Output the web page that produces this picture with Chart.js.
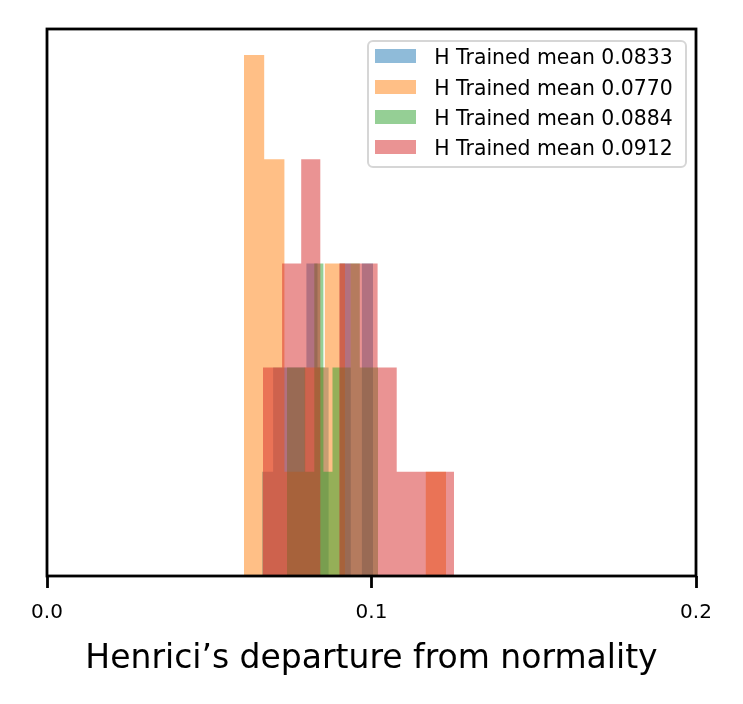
<!DOCTYPE html>
<html>
<head>
<meta charset="utf-8">
<script src="https://cdn.jsdelivr.net/npm/chart.js@4.4.0/dist/chart.umd.min.js"></script>
<style>
html,body{margin:0;padding:0;background:#fff;}
#wrap{position:relative;width:743px;height:704px;}
#legend{position:absolute;left:367px;top:40px;width:320px;height:128px;box-sizing:border-box;border:2.7px solid #d6d6d6;border-radius:6px;background:rgba(255,255,255,0.8);font-family:'DejaVu Sans',sans-serif;font-size:20.4px;color:#000;}
.row{position:absolute;left:6.3px;height:14px;line-height:14px;white-space:nowrap;}
.sw{position:absolute;left:0;top:0;width:41px;height:14px;}
.tx{position:absolute;left:59px;top:1px;}
</style>
</head>
<body>
<div id="wrap">
<canvas id="c" width="743" height="704"></canvas>
<div id="legend"></div>
</div>
<script>
// ---- data (Henrici's departure from normality histograms) ----
const seriesLabels = ['H Trained mean 0.0833', 'H Trained mean 0.0770', 'H Trained mean 0.0884', 'H Trained mean 0.0912'];
const seriesColors = ['rgba(31,119,180,0.5)', 'rgba(255,127,14,0.5)', 'rgba(44,160,44,0.5)', 'rgba(214,39,40,0.5)'];

// bin edges (11 each) and counts (10 each)
const blueEdges   = [0.06626, 0.06968, 0.07310, 0.07652, 0.07994, 0.08336, 0.08678, 0.09020, 0.09362, 0.09704, 0.10046];
const blueCounts  = [1, 2, 2, 2, 3, 2, 0, 3, 0, 3];

const orangeEdges  = [0.06071, 0.06693, 0.07316, 0.07938, 0.08561, 0.09183, 0.09806, 0.10428, 0.11051, 0.11673, 0.12296];
const orangeCounts = [5, 4, 1, 2, 3, 0, 0, 0, 0, 1];

const greenEdges  = [0.07396, 0.07676, 0.07957, 0.08237, 0.08518, 0.08798, 0.09078, 0.09359, 0.09639, 0.09920, 0.10200];
const greenCounts = [2, 2, 1, 3, 1, 2, 2, 3, 2, 2];

const redEdges  = [0.06656, 0.07245, 0.07834, 0.08422, 0.09011, 0.09600, 0.10188, 0.10777, 0.11366, 0.11954, 0.12542];
const redCounts = [2, 3, 4, 0, 3, 3, 2, 1, 1, 1];

const xTickValues = [0, 0.1, 0.2];
const xTickLabels = ['0.0', '0.1', '0.2'];
const xTitle = 'Henrici\u2019s departure from normality';

// ---- build ----
function histPoints(edges, counts) {
  return edges.map((e, i) => ({ x: e, y: counts[Math.min(i, counts.length - 1)] }));
}
const allEdges = [blueEdges, orangeEdges, greenEdges, redEdges];
const allCounts = [blueCounts, orangeCounts, greenCounts, redCounts];

const datasets = seriesLabels.map((lab, k) => ({
  label: lab,
  data: histPoints(allEdges[k], allCounts[k]),
  stepped: 'before',
  fill: 'origin',
  backgroundColor: seriesColors[k],
  borderColor: 'rgba(0,0,0,0)',
  borderWidth: 0,
  pointRadius: 0,
  pointHoverRadius: 0,
  tension: 0,
  order: seriesLabels.length - k
}));

const framePlugin = {
  id: 'frame',
  afterDatasetsDraw(chart) {
    const a = chart.chartArea, ctx = chart.ctx;
    ctx.save();
    ctx.strokeStyle = '#000';
    ctx.lineWidth = 2.8;
    ctx.strokeRect(a.left, a.top, a.right - a.left, a.bottom - a.top);
    ctx.restore();
  }
};

const htmlLegend = {
  id: 'htmlLegend',
  afterUpdate(chart) {
    const box = document.getElementById('legend');
    box.innerHTML = '';
    chart.data.datasets.forEach((ds, i) => {
      const row = document.createElement('div');
      row.className = 'row';
      row.style.top = (7.3 + 30.2 * i) + 'px';
      const sw = document.createElement('div');
      sw.className = 'sw';
      sw.style.background = ds.backgroundColor;
      const tx = document.createElement('span');
      tx.className = 'tx';
      tx.textContent = ds.label;
      row.appendChild(sw);
      row.appendChild(tx);
      box.appendChild(row);
    });
  }
};

new Chart(document.getElementById('c'), {
  type: 'line',
  data: { datasets },
  plugins: [framePlugin, htmlLegend],
  options: {
    responsive: false,
    animation: false,
    devicePixelRatio: 1,
    events: [],
    layout: { padding: { left: 47, right: 47, top: 29, bottom: 28.5 } },
    plugins: { legend: { display: false }, tooltip: { enabled: false } },
    scales: {
      x: {
        type: 'linear',
        min: 0, max: 0.2,
        afterBuildTicks(axis) { axis.ticks = xTickValues.map(v => ({ value: v })); },
        ticks: {
          callback: (v) => { const i = xTickValues.indexOf(v); return i >= 0 ? xTickLabels[i] : ''; },
          font: { family: 'DejaVu Sans', size: 20 },
          color: '#000',
          padding: 13,
          maxRotation: 0
        },
        grid: { display: true, drawOnChartArea: false, drawTicks: true, tickLength: 12, tickWidth: 2.8, tickColor: '#000' },
        border: { display: false },
        title: { display: true, text: xTitle, color: '#000', font: { family: 'DejaVu Sans', size: 33, lineHeight: 1 }, padding: { top: 4.5, bottom: 0 } }
      },
      y: {
        display: false,
        min: 0, max: 5.25
      }
    }
  }
});
</script>
</body>
</html>
